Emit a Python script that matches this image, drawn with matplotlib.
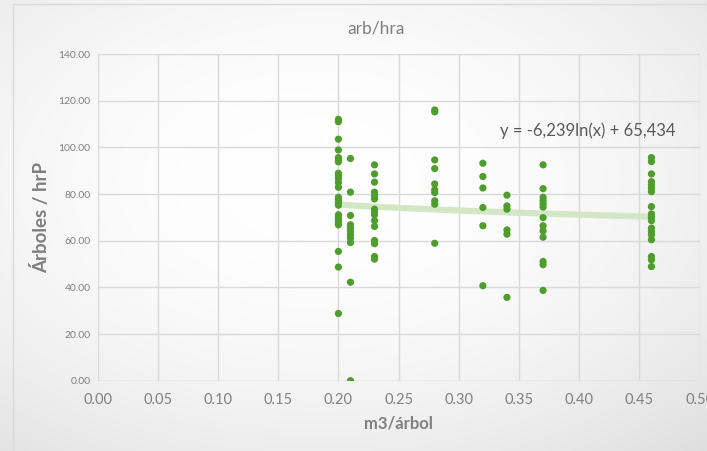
import numpy as np
import matplotlib
matplotlib.use("Agg")
import matplotlib.pyplot as plt
from matplotlib.patches import Rectangle

# ---- data ----
x_020 = [112.0, 111.0, 103.5, 98.9, 95.6, 94.6, 93.8, 88.9, 87.8, 86.6, 84.9, 82.9,
         78.6, 77.5, 76.3, 75.2, 71.1, 70.1, 68.9, 67.8, 66.8, 55.4, 48.7, 28.8]
x_021 = [95.2, 80.8, 70.8, 66.8, 65.4, 63.9, 62.5, 61.1, 59.2, 42.2, 0.0]
x_023 = [92.5, 88.6, 85.1, 80.8, 79.3, 77.9, 73.5, 72.2, 71.1, 68.6, 66.1, 60.1, 58.7, 53.2, 52.1]
x_028 = [116.0, 115.2, 94.6, 90.9, 84.3, 81.8, 80.6, 77.1, 75.6, 58.9]
x_032 = [93.2, 87.5, 82.6, 74.2, 66.4, 40.7]
x_034 = [79.5, 74.9, 73.5, 64.6, 62.8, 35.7]
x_037 = [92.5, 82.3, 78.6, 77.2, 75.8, 74.4, 69.9, 66.4, 64.2, 61.5, 51.1, 49.7, 38.7]
x_046 = [95.6, 93.9, 88.6, 85.3, 83.9, 82.5, 81.0, 74.6, 71.5, 70.1, 68.6,
         65.4, 63.9, 62.5, 60.4, 53.2, 51.8, 48.9]

groups = {0.20: x_020, 0.21: x_021, 0.23: x_023, 0.28: x_028,
          0.32: x_032, 0.34: x_034, 0.37: x_037, 0.46: x_046}

trend_a = -6.239
trend_b = 65.434
trend_label = "y = -6,239ln(x) + 65,434"

title = "arb/hra"
xlabel = "m3/árbol"
ylabel = "Árboles / hrP"
xticks = [0.00, 0.05, 0.10, 0.15, 0.20, 0.25, 0.30, 0.35, 0.40, 0.45, 0.50]
yticks = [0, 20, 40, 60, 80, 100, 120, 140]

xs = np.concatenate([[k] * len(v) for k, v in groups.items()])
ys = np.concatenate([v for v in groups.values()])

# ---- figure ----
W, H = 707, 451
fig = plt.figure(figsize=(W / 100, H / 100), dpi=100)
plt.rcParams['font.family'] = ['Lato', 'DejaVu Sans']

# background gradient
bg = fig.add_axes([0, 0, 1, 1], zorder=-10)
yy, xx = np.mgrid[0:H, 0:W]
r = np.sqrt(((xx - W * 0.45) / (W * 0.6)) ** 2 + ((yy - H * 0.4) / (H * 0.6)) ** 2)
val = 1.0 - 0.07 * np.clip(r, 0, 1.4) ** 2
img = np.dstack([val, val, val])
bg.imshow(img, extent=[0, W, H, 0], aspect='auto')
bg.set_xlim(0, W)
bg.set_ylim(H, 0)
bg.axis('off')
bg.add_patch(Rectangle((13, 3.5), W + 10, H + 10, fill=False, edgecolor='#d9d9d9', lw=1))

ax = fig.add_axes([97.6 / W, 1 - 380.7 / H, (699.6 - 97.6) / W, (380.7 - 54) / H])
ax.set_facecolor('none')
ax.set_xlim(0, 0.5)
ax.set_ylim(0, 140)
ax.set_xticks(xticks)
ax.set_yticks(yticks)
ax.set_xticklabels([f"{t:.2f}" for t in xticks], fontsize=10.5, color='#808080')
ax.set_yticklabels([f"{t:.2f}" for t in yticks], fontsize=7.5, color='#808080')
ax.tick_params(length=0, pad=5)
ax.tick_params(axis='x', pad=9)
ax.grid(True, color='#d9d9d9', lw=1)
ax.set_axisbelow(True)
for s in ax.spines.values():
    s.set_visible(False)
ax.axhline(0, color='#d9d9d9', lw=1, zorder=1)

# trendline
tx = np.linspace(min(groups), max(groups), 100)
ax.plot(tx, trend_a * np.log(tx) + trend_b, color='#d3e7c6', lw=4.5, solid_capstyle='butt', zorder=2)

ax.scatter(xs, ys, s=27, color='#4e9d2d', edgecolors='none', zorder=3)

ax.text(0.334, 107.0, trend_label, fontsize=12, color='#595959', ha='left', va='center')

fig.text(376 / W, 1 - 28 / H, title, fontsize=12.5, color='#7f7f7f', ha='center', va='center')
ax.set_xlabel(xlabel, fontsize=12, fontweight='bold', color='#7f7f7f', labelpad=6)
ax.set_ylabel(ylabel, fontsize=13.5, fontweight='bold', color='#7f7f7f', labelpad=6)

fig.savefig("out.png", dpi=100)
